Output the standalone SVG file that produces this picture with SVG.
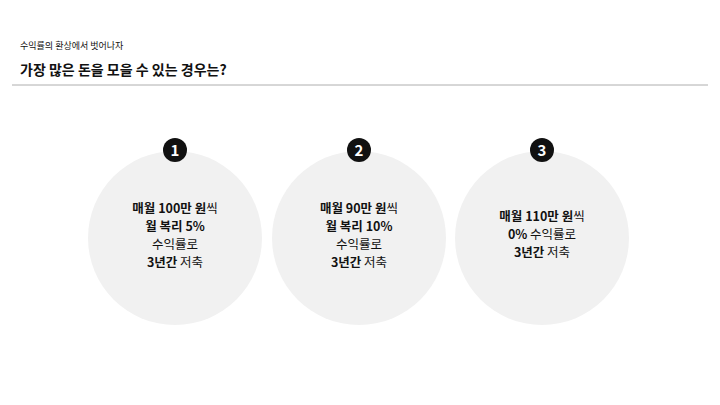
<svg xmlns="http://www.w3.org/2000/svg" width="720" height="405" viewBox="0 0 720 405">
<style>
text{font-family:"Noto Sans CJK KR","Noto Sans",sans-serif;fill:#111}
.c{fill:#f1f1f1}
.b{fill:#111}
.n{fill:#fff;font-size:15px;font-weight:700;text-anchor:middle}
.t{font-size:12.5px;text-anchor:middle}
.w{font-weight:700}
</style>
<rect width="720" height="405" fill="#fff"/>
<text x="20" y="49" font-size="9">수익률의 환상에서 벗어나자</text>
<text x="20" y="75" font-size="14" font-weight="700">가장 많은 돈을 모을 수 있는 경우는?</text>
<line x1="12" y1="85" x2="708" y2="85" stroke="#999" stroke-width="0.8"/>
<g id="node1">
<circle class="c" cx="175" cy="238" r="87"/>
<circle class="b" cx="175" cy="150" r="12"/>
<text class="n" x="175" y="155.5">1</text>
<text class="t" x="175" y="213"><tspan class="w">매월 100만 원</tspan>씩</text>
<text class="t w" x="175" y="231">월 복리 5%</text>
<text class="t" x="175" y="249">수익률로</text>
<text class="t" x="175" y="267"><tspan class="w">3년간</tspan> 저축</text>
</g>
<g id="node2">
<circle class="c" cx="359" cy="238" r="87"/>
<circle class="b" cx="359" cy="150" r="12"/>
<text class="n" x="359" y="155.5">2</text>
<text class="t" x="359" y="213"><tspan class="w">매월 90만 원</tspan>씩</text>
<text class="t w" x="359" y="231">월 복리 10%</text>
<text class="t" x="359" y="249">수익률로</text>
<text class="t" x="359" y="267"><tspan class="w">3년간</tspan> 저축</text>
</g>
<g id="node3">
<circle class="c" cx="542" cy="238" r="87"/>
<circle class="b" cx="542" cy="150" r="12"/>
<text class="n" x="542" y="155.5">3</text>
<text class="t" x="542" y="221"><tspan class="w">매월 110만 원</tspan>씩</text>
<text class="t" x="542" y="239"><tspan class="w">0%</tspan> 수익률로</text>
<text class="t" x="542" y="257"><tspan class="w">3년간</tspan> 저축</text>
</g>
<g id="connectors"></g>
</svg>
